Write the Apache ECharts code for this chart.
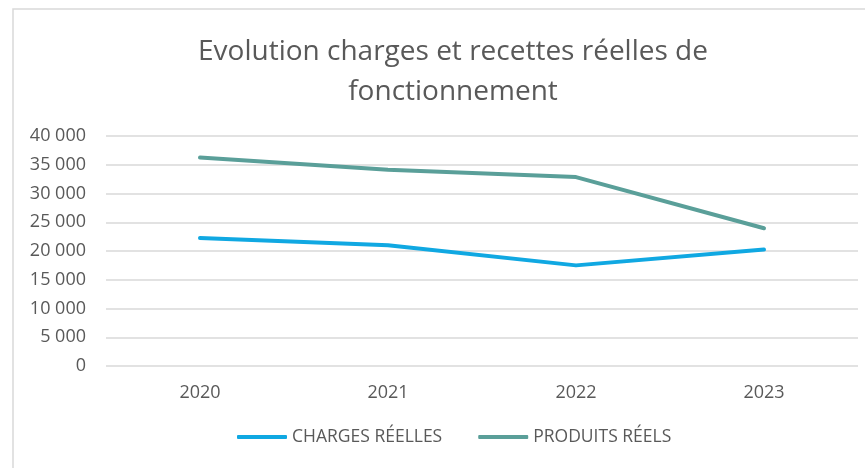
<!DOCTYPE html>
<html>
<head>
<meta charset="utf-8">
<script src="https://cdn.jsdelivr.net/npm/echarts@6/dist/echarts.min.js"></script>
<style>
  html, body { margin: 0; padding: 0; background: #fff; }
  #chart { width: 865px; height: 468px; }
</style>
</head>
<body>
<div id="chart"></div>
<script>
// données
const annees = ['2020', '2021', '2022', '2023'];
const chargesReelles = [22250, 21000, 17500, 20250];
const produitsReels = [36250, 34150, 32850, 23950];
const yTicks = [0, 5000, 10000, 15000, 20000, 25000, 30000, 35000, 40000];

const chartDom = document.getElementById('chart');
const myChart = echarts.init(chartDom);

const police = 'Open Sans';
const gris = '#595959';

// séparateur de milliers avec espace
function fmt(v) {
  return String(v).replace(/\B(?=(\d{3})+(?!\d))/g, ' ');
}

const option = {
  backgroundColor: '#fff',
  animation: false,
  title: {
    text: 'Evolution charges et recettes réelles de\nfonctionnement',
    left: 448,
    top: 27,
    textAlign: 'center',
    textStyle: {
      color: gris,
      fontFamily: police,
      fontSize: 28,
      fontWeight: 'normal',
      lineHeight: 40
    }
  },
  legend: {
    bottom: 17,
    left: 232,
    itemWidth: 50,
    itemHeight: 4,
    itemGap: 36,
    icon: 'roundRect',
    textStyle: { color: gris, fontFamily: police, fontSize: 17.5 },
    data: ['CHARGES RÉELLES', 'PRODUITS RÉELS']
  },
  grid: { left: 106, right: 7, top: 136, bottom: 102 },
  xAxis: {
    type: 'category',
    data: annees,
    boundaryGap: true,
    axisLine: { show: false },
    axisTick: { show: false },
    axisLabel: { color: gris, fontFamily: police, fontSize: 18, margin: 18 }
  },
  yAxis: {
    type: 'value',
    min: yTicks[0],
    max: yTicks[yTicks.length - 1],
    interval: 5000,
    axisLine: { show: false },
    axisTick: { show: false },
    splitLine: { lineStyle: { color: '#d9d9d9', width: 1.5 } },
    axisLabel: {
      color: gris, fontFamily: police, fontSize: 18, margin: 20,
      formatter: fmt
    }
  },
  series: [
    {
      name: 'CHARGES RÉELLES',
      type: 'line',
      data: chargesReelles,
      symbol: 'none',
      lineStyle: { color: '#10a8e2', width: 4, cap: 'round', join: 'round' },
      itemStyle: { color: '#10a8e2' }
    },
    {
      name: 'PRODUITS RÉELS',
      type: 'line',
      data: produitsReels,
      symbol: 'none',
      lineStyle: { color: '#5a9f99', width: 4, cap: 'round', join: 'round' },
      itemStyle: { color: '#5a9f99' }
    }
  ],
  graphic: [
    {
      type: 'rect',
      silent: true,
      shape: { x: 13, y: 9, width: 880, height: 480 },
      style: { fill: 'none', stroke: '#d9d9d9', lineWidth: 1.5 }
    }
  ]
};

myChart.setOption(option);
</script>
</body>
</html>
